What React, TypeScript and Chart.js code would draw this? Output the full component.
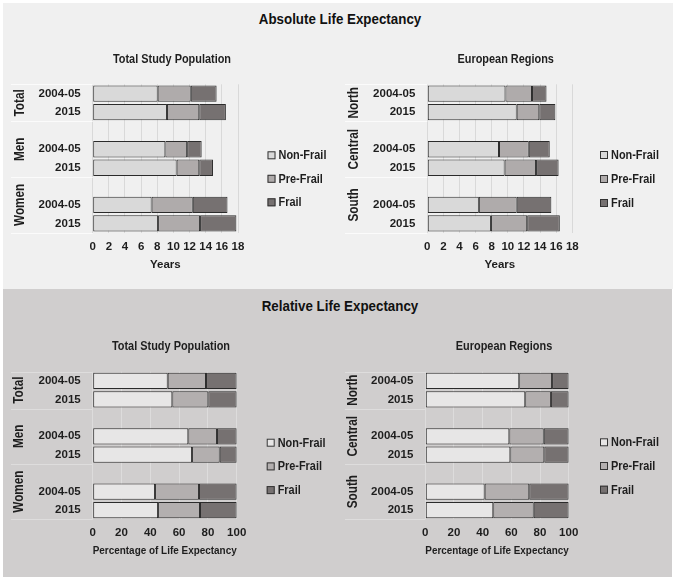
import React, { useEffect, useRef } from 'react';
import { Chart, registerables } from 'chart.js';

Chart.register(...registerables);

const FONT = "'Liberation Sans Narrow', 'Arial Narrow', 'Liberation Sans', Arial, sans-serif";

// ---- data ----
const yearLabels = ['2004-05', '2015', '', '2004-05', '2015', '', '2004-05', '2015'];
const popGroups = ['Total', 'Men', 'Women'];
const regionGroups = ['North', 'Central', 'South'];
const groupBounds = [-0.5, 1.5, 4.5, 7.5];
const seriesNames = ['Non-Frail', 'Pre-Frail', 'Frail'];

const absTicks = [0, 2, 4, 6, 8, 10, 12, 14, 16, 18];
const relTicks = [0, 20, 40, 60, 80, 100];

// Absolute life expectancy (years) - Total Study Population
const absPopNonFrail = [8.05, 9.2, null, 9.0, 10.4, null, 7.3, 8.1];
const absPopPreFrail = [4.1, 4.0, null, 2.7, 2.8, null, 5.1, 5.2];
const absPopFrail = [3.2, 3.3, null, 1.8, 1.7, null, 4.3, 4.5];
// Absolute life expectancy (years) - European Regions
const absRegNonFrail = [9.7, 11.1, null, 8.9, 9.6, null, 6.4, 7.9];
const absRegPreFrail = [3.3, 2.8, null, 3.7, 3.9, null, 4.7, 4.5];
const absRegFrail = [1.8, 2.0, null, 2.6, 2.8, null, 4.3, 4.05];
// Relative life expectancy (%) - Total Study Population
const relPopNonFrail = [52.1, 55.3, null, 66.4, 69.0, null, 43.3, 45.4];
const relPopPreFrail = [26.6, 25.0, null, 19.9, 19.2, null, 30.5, 29.1];
const relPopFrail = [21.3, 19.7, null, 13.7, 11.8, null, 26.2, 25.5];
// Relative life expectancy (%) - European Regions
const relRegNonFrail = [65.5, 69.7, null, 58.6, 59.3, null, 41.4, 47.4];
const relRegPreFrail = [22.9, 17.9, null, 24.0, 23.7, null, 31.1, 28.2];
const relRegFrail = [11.6, 12.4, null, 17.4, 17.0, null, 27.5, 24.4];

const topColors = ['#d9d9d9', '#afabab', '#767171'];
const bottomColors = ['#e7e6e6', '#b3afaf', '#767171'];
const TEXT = '#1e1e1e';
const NARROW = 0.84;

function narrowText(ctx: CanvasRenderingContext2D, text: string, x: number, y: number, align: CanvasTextAlign) {
  ctx.save();
  ctx.translate(x, y);
  ctx.scale(NARROW, 1);
  ctx.textAlign = align;
  ctx.fillText(text, 0, 0);
  ctx.restore();
}

const decorPlugin = {
  id: 'panelDecor',
  afterDraw(chart: any, _args: any, o: any) {
    const ctx = chart.ctx as CanvasRenderingContext2D;
    const { left } = chart.chartArea;
    const ys = chart.scales.y;
    const p0 = ys.getPixelForValue(0);
    const step = ys.getPixelForValue(1) - p0;
    const pix = (v: number) => p0 + v * step;
    ctx.save();
    ctx.strokeStyle = o.sepColor;
    ctx.lineWidth = 1;
    o.bounds.forEach((b: number) => {
      const py = Math.round(pix(b)) + 0.5;
      ctx.beginPath();
      ctx.moveTo(o.sepX, py);
      ctx.lineTo(left, py);
      ctx.stroke();
    });
    ctx.fillStyle = TEXT;
    ctx.textAlign = 'center';
    ctx.textBaseline = 'middle';
    ctx.font = `bold 14px ${FONT}`;
    o.groups.forEach((g: string, i: number) => {
      const cy = (pix(o.bounds[i]) + pix(o.bounds[i + 1])) / 2;
      ctx.save();
      ctx.translate(o.groupX, cy);
      ctx.rotate(-Math.PI / 2);
      narrowText(ctx, g, 0, 0, 'center');
      ctx.restore();
    });
    ctx.font = `bold 13px ${FONT}`;
    narrowText(ctx, o.subtitle, o.subX, o.subY, 'center');
    o.labels.forEach((lab: string, i: number) => {
      const ly = o.legendY + i * o.legendStep;
      ctx.fillStyle = o.colors[i];
      ctx.fillRect(o.legendX, ly - 4, 8, 8);
      ctx.strokeStyle = '#333';
      ctx.strokeRect(o.legendX + 0.5, ly - 3.5, 7, 7);
      ctx.fillStyle = TEXT;
      narrowText(ctx, lab, o.legendX + 11, ly + 0.5, 'left');
    });
    ctx.restore();
  },
};

type PanelProps = {
  left: number; top: number; width: number; height: number;
  yW: number; padRight: number; padTop: number; xH: number;
  groups: string[]; groupX: number; sepX: number; sepColor: string;
  subtitle: string; subX: number; subY: number;
  legendX: number; legendY: number; legendStep: number;
  colors: string[]; gridColor: string;
  values: (number | null)[][]; ticks: number[]; xMax: number;
  xTitle: string; xTitlePad: number;
};

function Panel(p: PanelProps) {
  const ref = useRef<HTMLCanvasElement>(null);
  useEffect(() => {
    const canvas = ref.current!;
    const chart = new Chart(canvas, {
      type: 'bar',
      data: {
        labels: yearLabels,
        datasets: seriesNames.map((name, i) => ({
          label: name,
          data: p.values[i],
          backgroundColor: p.colors[i],
          borderColor: '#2b2b2b',
          borderWidth: 1,
          borderSkipped: false,
          barPercentage: 0.88,
          categoryPercentage: 1,
        })),
      },
      options: {
        indexAxis: 'y',
        animation: false,
        responsive: false,
        maintainAspectRatio: false,
        layout: { padding: { left: 0, right: p.padRight, top: p.padTop, bottom: 0 } },
        plugins: {
          legend: { display: false },
          tooltip: { enabled: false },
          panelDecor: {
            groups: p.groups, bounds: groupBounds, groupX: p.groupX, sepX: p.sepX,
            sepColor: p.sepColor, subtitle: p.subtitle, subX: p.subX, subY: p.subY,
            legendX: p.legendX, legendY: p.legendY, legendStep: p.legendStep,
            colors: p.colors, labels: seriesNames,
          },
        } as any,
        scales: {
          x: {
            stacked: true,
            min: 0,
            max: p.xMax,
            afterFit: (s: any) => { s.height = p.xH; },
            afterBuildTicks: (s: any) => { s.ticks = p.ticks.map((v) => ({ value: v })); },
            grid: { color: p.gridColor, drawTicks: false, lineWidth: 1 },
            border: { display: false },
            ticks: {
              autoSkip: false,
              maxRotation: 0,
              padding: 7,
              color: TEXT,
              font: { family: FONT, size: 11.5, weight: 'bold' },
            },
            title: {
              display: true,
              text: p.xTitle,
              color: TEXT,
              font: { family: FONT, size: 11.5, weight: 'bold' },
              padding: { top: 0, bottom: p.xTitlePad },
            },
          },
          y: {
            stacked: true,
            afterFit: (s: any) => { s.width = p.yW; },
            grid: { display: false, drawTicks: false },
            border: { display: false },
            ticks: {
              autoSkip: false,
              padding: 12,
              color: TEXT,
              font: { family: FONT, size: 11.5, weight: 'bold' },
            },
          },
        },
      },
      plugins: [decorPlugin],
    } as any);
    return () => chart.destroy();
  }, []);
  return (
    <canvas
      ref={ref}
      width={p.width}
      height={p.height}
      style={{ position: 'absolute', left: p.left, top: p.top, width: p.width, height: p.height }}
    />
  );
}

export default function App() {
  const titleStyle: React.CSSProperties = {
    position: 'absolute', left: 0, width: 680, textAlign: 'center',
    fontFamily: FONT, fontWeight: 'bold', fontSize: 15, lineHeight: '18px', color: '#111',
    transform: 'scaleX(0.89)', transformOrigin: '340px 50%',
  };
  return (
    <div style={{ position: 'fixed', left: 0, top: 0, width: 680, height: 581, background: '#ffffff', overflow: 'hidden' }}>
      <div style={{ position: 'absolute', left: 3, top: 3, width: 670, height: 286, background: '#f0f0f0' }} />
      <div style={{ position: 'absolute', left: 3, top: 289, width: 669, height: 288, background: '#d0cece' }} />
      <div style={{ ...titleStyle, top: 10 }}>Absolute Life Expectancy</div>
      <div style={{ ...titleStyle, top: 297 }}>Relative Life Expectancy</div>
      <Panel
        left={3} top={30} width={337} height={258}
        yW={89.7} padRight={102} padTop={54.3} xH={55.3}
        groups={popGroups} groupX={17} sepX={8} sepColor="#fbfbfb"
        subtitle="Total Study Population" subX={169} subY={29}
        legendX={264.5} legendY={125.3} legendStep={23.5}
        colors={topColors} gridColor="#d9d9d9"
        values={[absPopNonFrail, absPopPreFrail, absPopFrail]} ticks={absTicks} xMax={18}
        xTitle="Years" xTitlePad={16.5}
      />
      <Panel
        left={340} top={30} width={335} height={258}
        yW={87.3} padRight={102.7} padTop={54.3} xH={55.3}
        groups={regionGroups} groupX={14} sepX={5} sepColor="#fbfbfb"
        subtitle="European Regions" subX={165.7} subY={29}
        legendX={260} legendY={125} legendStep={24}
        colors={topColors} gridColor="#d9d9d9"
        values={[absRegNonFrail, absRegPreFrail, absRegFrail]} ticks={absTicks} xMax={18}
        xTitle="Years" xTitlePad={16.5}
      />
      <Panel
        left={3} top={316} width={337} height={260}
        yW={89.7} padRight={103.3} padTop={55.7} xH={56.7}
        groups={popGroups} groupX={16} sepX={8} sepColor="#dedddd"
        subtitle="Total Study Population" subX={168} subY={30.7}
        legendX={263.7} legendY={126.7} legendStep={23.7}
        colors={bottomColors} gridColor="#dddcdc"
        values={[relPopNonFrail, relPopPreFrail, relPopFrail]} ticks={relTicks} xMax={100}
        xTitle="Percentage of Life Expectancy" xTitlePad={18.1}
      />
      <Panel
        left={340} top={316} width={332} height={260}
        yW={85.3} padRight={103.3} padTop={55.7} xH={56.7}
        groups={regionGroups} groupX={12.7} sepX={5} sepColor="#dedddd"
        subtitle="European Regions" subX={164} subY={30.7}
        legendX={260} legendY={126.3} legendStep={23.7}
        colors={bottomColors} gridColor="#dddcdc"
        values={[relRegNonFrail, relRegPreFrail, relRegFrail]} ticks={relTicks} xMax={100}
        xTitle="Percentage of Life Expectancy" xTitlePad={18.1}
      />
    </div>
  );
}
